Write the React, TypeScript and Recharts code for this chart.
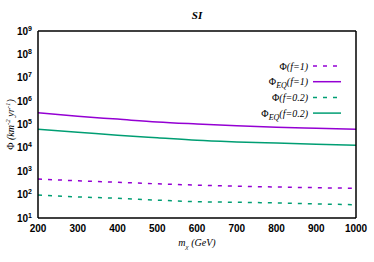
import React from 'react';
import { LineChart, Line, XAxis, YAxis, Legend, Label } from 'recharts';

const masses = [200, 300, 400, 500, 600, 700, 800, 900, 1000];
const phiF1 = [466, 390, 336, 290, 255, 230, 212, 198, 186];
const phiEqF1 = [320000, 225000, 170000, 128000, 105000, 88000, 77000, 69000, 62000];
const phiF02 = [96, 80, 70, 58, 50, 47, 44, 40, 37];
const phiEqF02 = [62000, 47000, 35000, 27000, 21000, 18000, 16000, 14300, 12900];

const xTicks = [200, 300, 400, 500, 600, 700, 800, 900, 1000];
const yExponents = [1, 2, 3, 4, 5, 6, 7, 8, 9];
const yMajorTicks = yExponents.map((e) => Math.pow(10, e));
const minorMultipliers = [2, 3, 4, 5, 6, 7, 8, 9];
const yMinorTicks = yExponents.slice(0, 8).flatMap((e) => minorMultipliers.map((m) => m * Math.pow(10, e)));

const PURPLE = '#9400d3';
const GREEN = '#009e73';

const data = masses.map((m, i) => ({
  m,
  f1: phiF1[i],
  eq1: phiEqF1[i],
  f02: phiF02[i],
  eq02: phiEqF02[i],
}));

const tickFont = 'Liberation Sans, Arial, sans-serif';
const serif = 'Liberation Serif, Times New Roman, serif';

const XTick = (props: any) => {
  const { x, y, payload } = props;
  return (
    <text x={x} y={y} dy="0.71em" textAnchor="middle" fontFamily={tickFont} fontWeight="bold" fontSize={10} fill="#000">
      {payload.value}
    </text>
  );
};

const YTick = (props: any) => {
  const { x, y, payload } = props;
  const exp = Math.round(Math.log10(payload.value));
  return (
    <text x={x} y={y} dy="0.35em" textAnchor="end" fontFamily={tickFont} fontWeight="bold" fontSize={10} fill="#000">
      <tspan>10</tspan>
      <tspan dy={-4} fontSize={7}>{exp}</tspan>
    </text>
  );
};

const legendRows = [
  { key: 'f1', color: PURPLE, dash: '4 6', main: 'Φ', sub: '', arg: '(f=1)' },
  { key: 'eq1', color: PURPLE, dash: undefined, main: 'Φ', sub: 'EQ', arg: '(f=1)' },
  { key: 'f02', color: GREEN, dash: '4 6', main: 'Φ', sub: '', arg: '(f=0.2)' },
  { key: 'eq02', color: GREEN, dash: undefined, main: 'Φ', sub: 'EQ', arg: '(f=0.2)' },
];

const renderLegend = () => (
  <svg width={140} height={70} style={{ display: 'block' }}>
    {legendRows.map((r, i) => {
      const cy = 10 + i * 15.7;
      return (
        <g key={r.key}>
          <text x={88} y={cy + 3.5} textAnchor="end" fontFamily={serif} fontSize={10} fill="#000">
            <tspan>{r.main}</tspan>
            {r.sub ? (
              <tspan dy={3} fontSize={8} fontStyle="italic">{r.sub}</tspan>
            ) : null}
            <tspan dy={r.sub ? -3 : 0} fontStyle="italic">{r.arg}</tspan>
          </text>
          <line x1={93} x2={121} y1={cy} y2={cy} stroke={r.color} strokeWidth={1.5} strokeDasharray={r.dash} />
        </g>
      );
    })}
  </svg>
);

const YLabel = (props: any) => {
  const { viewBox } = props;
  const cy = viewBox.y + viewBox.height / 2;
  const cx = 10;
  return (
    <text x={cx} y={cy} transform={`rotate(-90, ${cx}, ${cy})`} textAnchor="middle" dy="0.35em" fontFamily={serif} fontSize={10} fill="#000">
      <tspan>Φ </tspan>
      <tspan fontStyle="italic">(km</tspan>
      <tspan dy={-4} fontSize={7} fontStyle="italic">-2</tspan>
      <tspan dy={4} fontStyle="italic"> yr</tspan>
      <tspan dy={-4} fontSize={7} fontStyle="italic">-1</tspan>
      <tspan dy={4} fontStyle="italic">)</tspan>
    </text>
  );
};

const XLabel = (props: any) => {
  const { viewBox } = props;
  const cx = viewBox.x + viewBox.width / 2;
  const y = 246;
  return (
    <text x={cx} y={y} textAnchor="middle" fontFamily={serif} fontSize={10} fontStyle="italic" fill="#000">
      <tspan>m</tspan>
      <tspan dy={3} fontSize={7}>χ</tspan>
      <tspan dy={-3}> (GeV)</tspan>
    </text>
  );
};

const TitleLabel = (props: any) => {
  const { viewBox } = props;
  const cx = viewBox.x + viewBox.width / 2;
  return (
    <text x={cx} y={19} textAnchor="middle" fontFamily={serif} fontSize={11} fontStyle="italic" fontWeight="bold" fill="#000">
      SI
    </text>
  );
};

const border = { stroke: '#000', strokeWidth: 1.5 };
const tl = { stroke: '#000', strokeWidth: 1 };

export default function App() {
  return (
    <div style={{ position: 'absolute', left: 0, top: 0, width: 374, height: 262, background: '#fff' }}>
      <LineChart width={374} height={262} data={data} margin={{ top: 31, right: 18, bottom: 0, left: 0 }}>
        <XAxis
          xAxisId="b"
          dataKey="m"
          type="number"
          domain={[200, 1000]}
          ticks={xTicks}
          height={44}
          tickLine={false}
          tickSize={6}
          tickMargin={1}
          axisLine={border}
          tick={<XTick />}
          allowDataOverflow
        >
          <Label content={<XLabel />} />
        </XAxis>
        <XAxis xAxisId="bm" dataKey="m" type="number" domain={[200, 1000]} ticks={xTicks} orientation="bottom" mirror tick={false} tickSize={5} tickLine={tl} axisLine={false} allowDataOverflow />
        <XAxis xAxisId="t" dataKey="m" type="number" domain={[200, 1000]} ticks={xTicks} orientation="top" mirror tick={false} tickSize={5} tickLine={tl} axisLine={border} allowDataOverflow>
          <Label content={<TitleLabel />} />
        </XAxis>
        <YAxis
          yAxisId="l"
          type="number"
          scale="log"
          domain={[10, 1e9]}
          ticks={yMajorTicks}
          width={38}
          tickLine={false}
          tickSize={4}
          tickMargin={2}
          axisLine={border}
          tick={<YTick />}
          allowDataOverflow
        >
          <Label content={<YLabel />} />
        </YAxis>
        <YAxis yAxisId="lm" type="number" scale="log" domain={[10, 1e9]} ticks={yMajorTicks} orientation="left" mirror tick={false} tickSize={5} tickLine={tl} axisLine={false} allowDataOverflow />
        <YAxis yAxisId="lmin" type="number" scale="log" domain={[10, 1e9]} ticks={yMinorTicks} orientation="left" mirror tick={false} tickSize={2.5} tickLine={tl} axisLine={false} allowDataOverflow />
        <YAxis yAxisId="r" type="number" scale="log" domain={[10, 1e9]} ticks={yMajorTicks} orientation="right" mirror tick={false} tickSize={5} tickLine={tl} axisLine={border} allowDataOverflow />
        <YAxis yAxisId="rmin" type="number" scale="log" domain={[10, 1e9]} ticks={yMinorTicks} orientation="right" mirror tick={false} tickSize={2.5} tickLine={tl} axisLine={false} allowDataOverflow />
        <Legend
          layout="horizontal"
          verticalAlign="middle"
          align="center"
          content={renderLegend}
          wrapperStyle={{ position: 'absolute', left: 220, top: 56, width: 140, height: 70 }}
        />
        <Line xAxisId="b" yAxisId="l" dataKey="f1" stroke={PURPLE} strokeWidth={1.5} strokeDasharray="4 6" dot={false} type="monotone" isAnimationActive={false} />
        <Line xAxisId="b" yAxisId="l" dataKey="eq1" stroke={PURPLE} strokeWidth={1.5} dot={false} type="monotone" isAnimationActive={false} />
        <Line xAxisId="b" yAxisId="l" dataKey="f02" stroke={GREEN} strokeWidth={1.5} strokeDasharray="4 6" dot={false} type="monotone" isAnimationActive={false} />
        <Line xAxisId="b" yAxisId="l" dataKey="eq02" stroke={GREEN} strokeWidth={1.5} dot={false} type="monotone" isAnimationActive={false} />
      </LineChart>
    </div>
  );
}
